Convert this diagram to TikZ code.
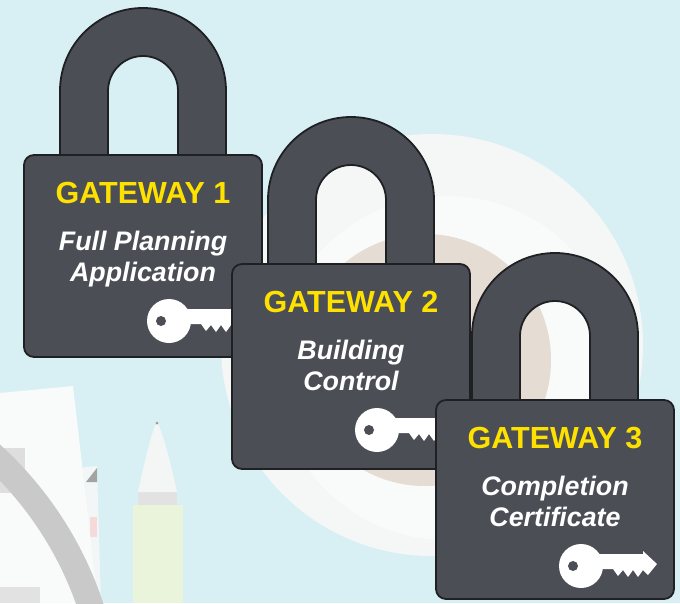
\documentclass[tikz,border=0pt]{standalone}
\usepackage{fontspec}
\setmainfont{Liberation Sans}
\definecolor{skybg}{HTML}{D8F0F4}
\definecolor{platecol}{HTML}{F5F7F7}
\definecolor{rimcol}{HTML}{F9FAFA}
\definecolor{coffeecol}{HTML}{E5DCD3}
\definecolor{lockbody}{HTML}{4B4E55}
\definecolor{lockedge}{HTML}{1F2023}
\definecolor{gateyellow}{HTML}{FFE100}
\definecolor{papercol}{HTML}{F9FAFA}
\definecolor{backsheet}{HTML}{F3F6F6}
\definecolor{sheetcorner}{HTML}{A3A3A3}
\definecolor{sheetpink}{HTML}{F6DADA}
\definecolor{printgrayA}{HTML}{DEDEDE}
\definecolor{printgrayB}{HTML}{E2E2E2}
\definecolor{ringgray}{HTML}{C9C9C9}
\definecolor{pencilbody}{HTML}{EAF4DA}
\definecolor{pencilband}{HTML}{E2E2E2}
\definecolor{penciltip}{HTML}{F4F6F6}
\definecolor{pencilpoint}{HTML}{9A9A9A}

\tikzset{
  lockline/.style={draw=lockedge, fill=lockbody, line width=1.8pt, line join=round},
  titletext/.style={text=gateyellow, font=\fontsize{30.5}{36}\selectfont\bfseries, inner sep=0pt},
  subtext/.style={text=white, font=\fontsize{26.8}{31}\selectfont\bfseries\itshape, inner sep=0pt},
}

% #1 name prefix, #2 centre x, #3 top of body, #4 body height,
% #5 heading, #6 first line, #7 second line
\newcommand\gatewaylock[7]{%
  % shackle
  \draw[lockline] (#2-83,#3+6) -- (#2-83,#3-64)
    arc[start angle=180, end angle=360, radius=83]
    -- (#2+83,#3+6) -- (#2+35,#3+6) -- (#2+35,#3-64)
    arc[start angle=0, end angle=-180, radius=35]
    -- (#2-35,#3+6) -- cycle;
  % body
  \draw[lockline, rounded corners=10pt] (#2-119,#3) rectangle (#2+119,#3+#4);
  % labels
  \node[titletext, anchor=base] (#1title) at (#2,#3+48) {#5};
  \node[subtext, anchor=base] (#1lineA) at (#2,#3+95) {#6};
  \node[subtext, anchor=base] (#1lineB) at (#2,#3+126) {#7};
  % key
  \begin{scope}[shift={(#2+26,#3+166)}]
    \fill[white] (0,0) circle (22);
    \fill[white] (10,-12) -- (62,-12) -- (62,-15) -- (76,-2) -- (67,9)
      -- (62,4) -- (57,11) -- (52,4) -- (47,11) -- (42,4) -- (37,10)
      -- (32,3) -- (10,3) -- cycle;
    \fill[lockbody] (-8,0) circle (5);
  \end{scope}
}

\begin{document}
\begin{tikzpicture}[x=1pt, y=-1pt]
  \useasboundingbox (0,0) rectangle (680,603);
  \fill[skybg] (0,0) rectangle (680,603);

  \begin{scope}
    \clip (0,0) rectangle (680,603);
    % plate and cup
    \fill[platecol] (432,345) circle (211);
    \begin{scope}
      \clip (432,345) circle (211);
      \fill[rimcol] (447,368) circle (172);
    \end{scope}
    \fill[coffeecol] (425,360) circle (126);

    % papers
    \fill[backsheet] (78,468) -- (97,466) -- (101,603) -- (84,603) -- cycle;
    \fill[sheetcorner] (86,482) -- (97,468) -- (97,482) -- cycle;
    \fill[sheetpink] (90,517) rectangle (97,537);
    \fill[papercol] (0,393) -- (73,386) -- (98,603) -- (0,603) -- cycle;
    \fill[printgrayA] (0,448) rectangle (25,493);
    \fill[printgrayB] (0,587) rectangle (40,603);
    % ring
    \fill[ringgray, even odd rule] (-250,720) circle (372) (-250,720) circle (346);

    % pen
    \fill[pencilbody] (133,505) rectangle (183,603);
    \fill[pencilband] (138,492) rectangle (177,505);
    \fill[penciltip] (138,492) .. controls (145,460) and (152,430) .. (157,422)
      .. controls (162,430) and (170,460) .. (177,492) -- cycle;
    \fill[pencilpoint] (157,423) circle (1.5);
  \end{scope}

  \gatewaylock{gA}{143}{155}{202}{GATEWAY 1}{Full Planning}{Application}
  \gatewaylock{gB}{351}{264}{205}{GATEWAY 2}{Building}{Control}
  \gatewaylock{gC}{555}{400}{199}{GATEWAY 3}{Completion}{Certificate}
\end{tikzpicture}
\end{document}
